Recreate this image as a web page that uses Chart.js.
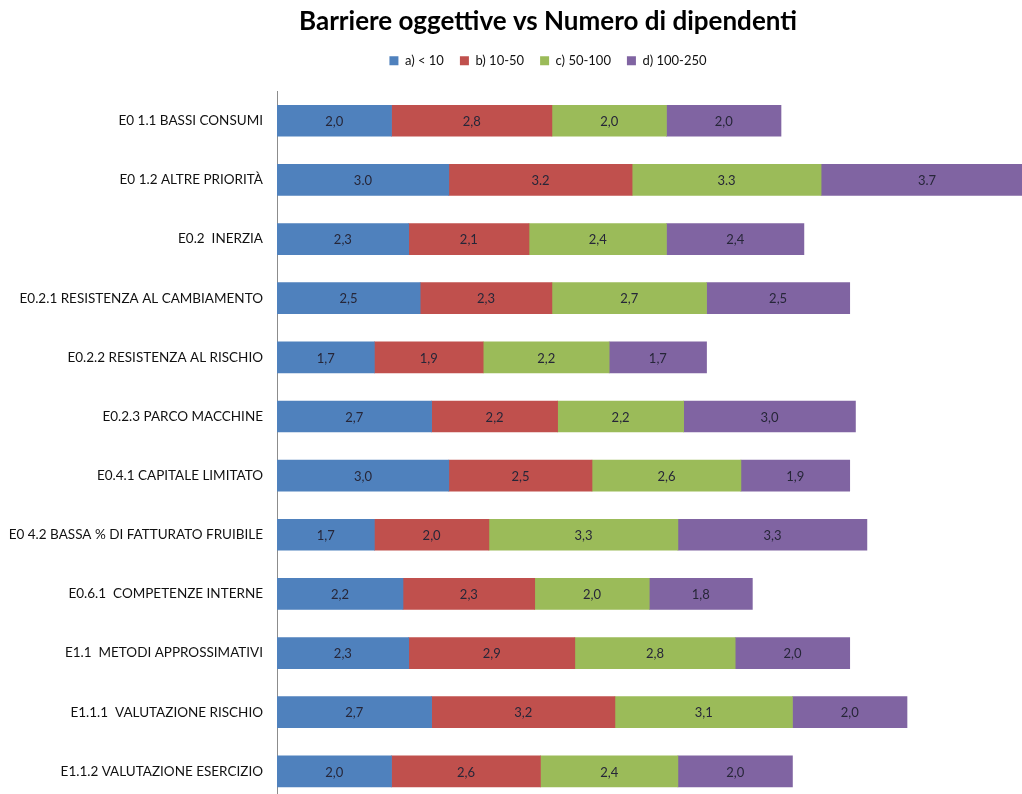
<!DOCTYPE html>
<html>
<head>
<meta charset="utf-8">
<title>Barriere oggettive vs Numero di dipendenti</title>
<script src="https://cdn.jsdelivr.net/npm/chart.js@4/dist/chart.umd.min.js"></script>
<style>
  html, body { margin: 0; padding: 0; background: #fff; overflow: hidden; }
  #wrap { width: 1022px; height: 794px; overflow: hidden; }
</style>
</head>
<body>
<div id="wrap">
  <canvas id="barChart" width="1113" height="823"></canvas>
</div>
<script>
// Barriers by company size (number of employees)
const categories = [
  "E0 1.1 BASSI CONSUMI",
  "E0 1.2 ALTRE PRIORITÀ",
  "E0.2  INERZIA",
  "E0.2.1 RESISTENZA AL CAMBIAMENTO",
  "E0.2.2 RESISTENZA AL RISCHIO",
  "E0.2.3 PARCO MACCHINE",
  "E0.4.1 CAPITALE LIMITATO",
  "E0 4.2 BASSA % DI FATTURATO FRUIBILE",
  "E0.6.1  COMPETENZE INTERNE",
  "E1.1  METODI APPROSSIMATIVI",
  "E1.1.1  VALUTAZIONE RISCHIO",
  "E1.1.2 VALUTAZIONE ESERCIZIO"
];

const seriesNames = ["a) < 10", "b) 10-50", "c) 50-100", "d) 100-250"];

const under10   = [2.0, 3.0, 2.3, 2.5, 1.7, 2.7, 3.0, 1.7, 2.2, 2.3, 2.7, 2.0];
const from10    = [2.8, 3.2, 2.1, 2.3, 1.9, 2.2, 2.5, 2.0, 2.3, 2.9, 3.2, 2.6];
const from50    = [2.0, 3.3, 2.4, 2.7, 2.2, 2.2, 2.6, 3.3, 2.0, 2.8, 3.1, 2.4];
const from100   = [2.0, 3.7, 2.4, 2.5, 1.7, 3.0, 1.9, 3.3, 1.8, 2.0, 2.0, 2.0];

// decimal mark used in each row's value labels
const decimalMarks = [",", ".", ",", ",", ",", ",", ",", ",", ",", ",", ",", ","];

const colors = ["#4F81BD", "#C0504D", "#9BBB59", "#8064A2"];

const fontFamily = "Lato, 'Open Sans', sans-serif";

const valueLabels = {
  id: "valueLabels",
  afterDatasetsDraw(chart) {
    const ctx = chart.ctx;
    ctx.save();
    ctx.font = "13px " + fontFamily;
    ctx.fillStyle = "#262638";
    ctx.textAlign = "center";
    ctx.textBaseline = "middle";
    chart.data.datasets.forEach((ds, i) => {
      chart.getDatasetMeta(i).data.forEach((bar, j) => {
        const txt = ds.data[j].toFixed(1).replace(".", decimalMarks[j]);
        ctx.fillText(txt, (bar.x + bar.base) / 2, bar.y + 1);
      });
    });
    ctx.restore();
  }
};

// extra room between the legend and the bars
const legendGap = {
  id: "legendGap",
  beforeInit(chart) {
    const fit = chart.legend.fit;
    chart.legend.fit = function () {
      fit.bind(chart.legend)();
      this.height += 14;
    };
  }
};

const series = [under10, from10, from50, from100];

new Chart(document.getElementById("barChart"), {
  type: "bar",
  data: {
    labels: categories,
    datasets: series.map((values, i) => ({
      label: seriesNames[i],
      data: values,
      backgroundColor: colors[i],
      borderWidth: 0,
      barThickness: 31
    }))
  },
  options: {
    indexAxis: "y",
    responsive: false,
    animation: false,
    layout: { padding: { left: 0, right: 17, top: 4, bottom: 5 } },
    scales: {
      x: {
        stacked: true,
        display: false,
        min: 0,
        max: 14.3
      },
      y: {
        stacked: true,
        afterFit(scale) { scale.width = 277; },
        grid: { display: false, drawTicks: false },
        border: { display: true, color: "#8c8c8c", width: 1 },
        ticks: {
          color: "#111",
          padding: 14,
          font: { family: fontFamily, size: 13.5 }
        }
      }
    },
    plugins: {
      title: {
        display: true,
        text: "Barriere oggettive vs Numero di dipendenti",
        color: "#000",
        font: { family: fontFamily, size: 26, weight: "bold" },
        padding: { top: 2, bottom: 1 }
      },
      legend: {
        display: true,
        position: "top",
        labels: {
          color: "#111",
          boxWidth: 9,
          boxHeight: 9,
          padding: 16,
          font: { family: fontFamily, size: 13 }
        }
      },
      tooltip: { enabled: false }
    }
  },
  plugins: [valueLabels, legendGap]
});
</script>
</body>
</html>
